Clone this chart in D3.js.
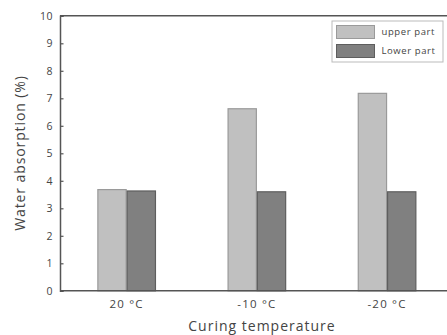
<!DOCTYPE html>
<html><head><meta charset="utf-8">
<script src="https://cdn.jsdelivr.net/npm/d3@7"></script>
<style>html,body{margin:0;padding:0;background:#fff;}svg{display:block;}</style>
</head><body>
<svg id="c" width="447" height="335"></svg>
<script>
const categories = ["20 °C", "-10 °C", "-20 °C"];
const seriesNames = ["upper part", "Lower part"];
const upperPart = [3.68, 6.62, 7.18];
const lowerPart = [3.63, 3.60, 3.60];
const yTicks = [0,1,2,3,4,5,6,7,8,9,10];

const svg = d3.select("#c");
const font = "'Open Sans', sans-serif";
const L = 60, T = 15.8, B = 290.8, R = 447;

const x0 = d3.scaleBand().domain(categories).range([L, L + 130.2 * 3.024]).paddingInner(0.55).paddingOuter(0.287);
const x1 = d3.scaleBand().domain(seriesNames).range([0, x0.bandwidth()]);
const y = d3.scaleLinear().domain([0, 10]).range([B, T]);
const colors = {"upper part": "#c0c0c0", "Lower part": "#808080"};
const strokes = {"upper part": "#9a9a9a", "Lower part": "#5e5e5e"};

const data = categories.map((c, i) => ({cat: c, vals: [
  {s: seriesNames[0], v: upperPart[i]}, {s: seriesNames[1], v: lowerPart[i]}]}));

const g = svg.append("g");
g.selectAll("g.grp").data(data).join("g").attr("class","grp")
  .attr("transform", d => `translate(${x0(d.cat)},0)`)
  .selectAll("rect").data(d => d.vals).join("rect")
  .attr("x", d => x1(d.s) + 0.5)
  .attr("width", x1.bandwidth() - 1)
  .attr("y", d => y(d.v))
  .attr("height", d => B - y(d.v))
  .attr("fill", d => colors[d.s])
  .attr("stroke", d => strokes[d.s])
  .attr("stroke-width", 1.2);

// frame
const axisColor = "#555";
svg.append("line").attr("x1", L).attr("x2", R).attr("y1", T).attr("y2", T).attr("stroke", axisColor).attr("stroke-width", 1.5);
svg.append("line").attr("x1", L).attr("x2", R).attr("y1", B).attr("y2", B).attr("stroke", axisColor).attr("stroke-width", 1.5);

const yAxis = svg.append("g").attr("transform", `translate(${L},0)`)
  .call(d3.axisLeft(y).tickValues(yTicks).tickSize(-3.5).tickPadding(7).tickFormat(d3.format("d")));
yAxis.select(".domain").attr("stroke", axisColor).attr("stroke-width", 1.5);
yAxis.selectAll(".tick line").attr("stroke", axisColor).attr("stroke-width", 1.2);
yAxis.selectAll(".tick text").attr("fill", "#444").attr("font-family", font).attr("font-size", 10.5)
  .attr("letter-spacing", 0.5);

const xAxis = svg.append("g").attr("transform", `translate(0,${B})`)
  .call(d3.axisBottom(x0).tickSize(0).tickPadding(9));
xAxis.select(".domain").remove();
xAxis.selectAll(".tick text").attr("fill", "#444").attr("font-family", font).attr("font-size", 11.5)
  .attr("letter-spacing", 1.2).attr("dy", "0.72em");

svg.append("text").attr("x", 262).attr("y", 331).attr("text-anchor", "middle")
  .attr("font-family", font).attr("font-size", 14).attr("letter-spacing", 1).attr("fill", "#444").text("Curing temperature");
svg.append("text").attr("transform", "translate(24.5,153) rotate(-90)").attr("text-anchor", "middle")
  .attr("font-family", font).attr("font-size", 14).attr("letter-spacing", 0.9).attr("fill", "#444").text("Water absorption (%)");

// legend
const lg = svg.append("g");
lg.append("rect").attr("x", 332).attr("y", 21).attr("width", 111).attr("height", 41)
  .attr("fill", "#fff").attr("stroke", "#bbb").attr("stroke-width", 1);
seriesNames.forEach((s, i) => {
  lg.append("rect").attr("x", 336.5).attr("y", 25.5 + i * 19).attr("width", 38).attr("height", 13)
    .attr("fill", colors[s]).attr("stroke", strokes[s]).attr("stroke-width", 1);
  lg.append("text").attr("x", 381.5).attr("y", 32 + i * 19).attr("dy", "0.35em")
    .attr("font-family", font).attr("font-size", 9.5).attr("letter-spacing", 0.6).attr("fill", "#444").text(s);
});
</script>
</body></html>
